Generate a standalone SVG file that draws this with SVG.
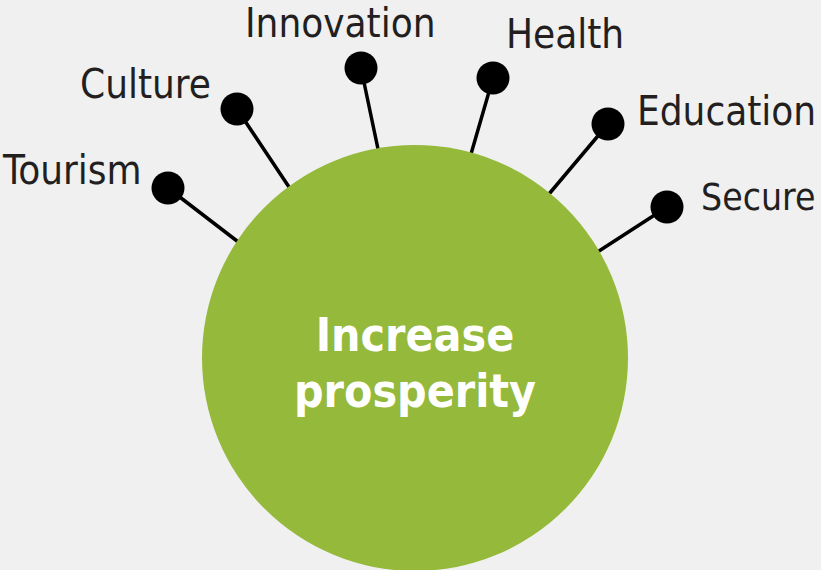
<svg xmlns="http://www.w3.org/2000/svg" width="821" height="570" viewBox="0 0 821 570">
<style>
.lbl{font-family:"DejaVu Sans Condensed","DejaVu Sans",sans-serif;font-stretch:condensed;font-size:40px;fill:#231f20}
.ctr{font-family:"DejaVu Sans Condensed","DejaVu Sans",sans-serif;font-stretch:condensed;font-weight:bold;font-size:46px;fill:#ffffff;text-anchor:middle}
.dot{fill:#000000}
.con line{stroke:#000000;stroke-width:3.5;stroke-linecap:round}
</style>
<rect width="821" height="570" fill="#f0f0f0"/>
<g id="connectors" class="con">
<line x1="168" y1="188" x2="237" y2="241"/>
<line x1="237" y1="109" x2="289" y2="187"/>
<line x1="361" y1="68" x2="378" y2="149"/>
<line x1="493" y1="78" x2="471" y2="154"/>
<line x1="608" y1="124" x2="549" y2="194"/>
<line x1="667" y1="207" x2="599" y2="251"/>
</g>
<g id="center">
<circle cx="415" cy="358" r="213" fill="#94b93b"/>
<text class="ctr" x="415" y="351">Increase</text>
<text class="ctr" x="415" y="407">prosperity</text>
</g>
<g id="tourism"><circle class="dot" cx="168" cy="188" r="16.5"/><text class="lbl" x="3" y="184">Tourism</text></g>
<g id="culture"><circle class="dot" cx="237" cy="109" r="16.5"/><text class="lbl" x="80" y="98">Culture</text></g>
<g id="innovation"><circle class="dot" cx="361" cy="68" r="16.5"/><text class="lbl" x="245" y="37">Innovation</text></g>
<g id="health"><circle class="dot" cx="493" cy="78" r="16.5"/><text class="lbl" x="506" y="48">Health</text></g>
<g id="education"><circle class="dot" cx="608" cy="124" r="16.5"/><text class="lbl" x="637" y="125">Education</text></g>
<g id="secure"><circle class="dot" cx="667" cy="207" r="16.5"/><text class="lbl" x="701" y="210" style="font-size:37px">Secure</text></g>
</svg>
